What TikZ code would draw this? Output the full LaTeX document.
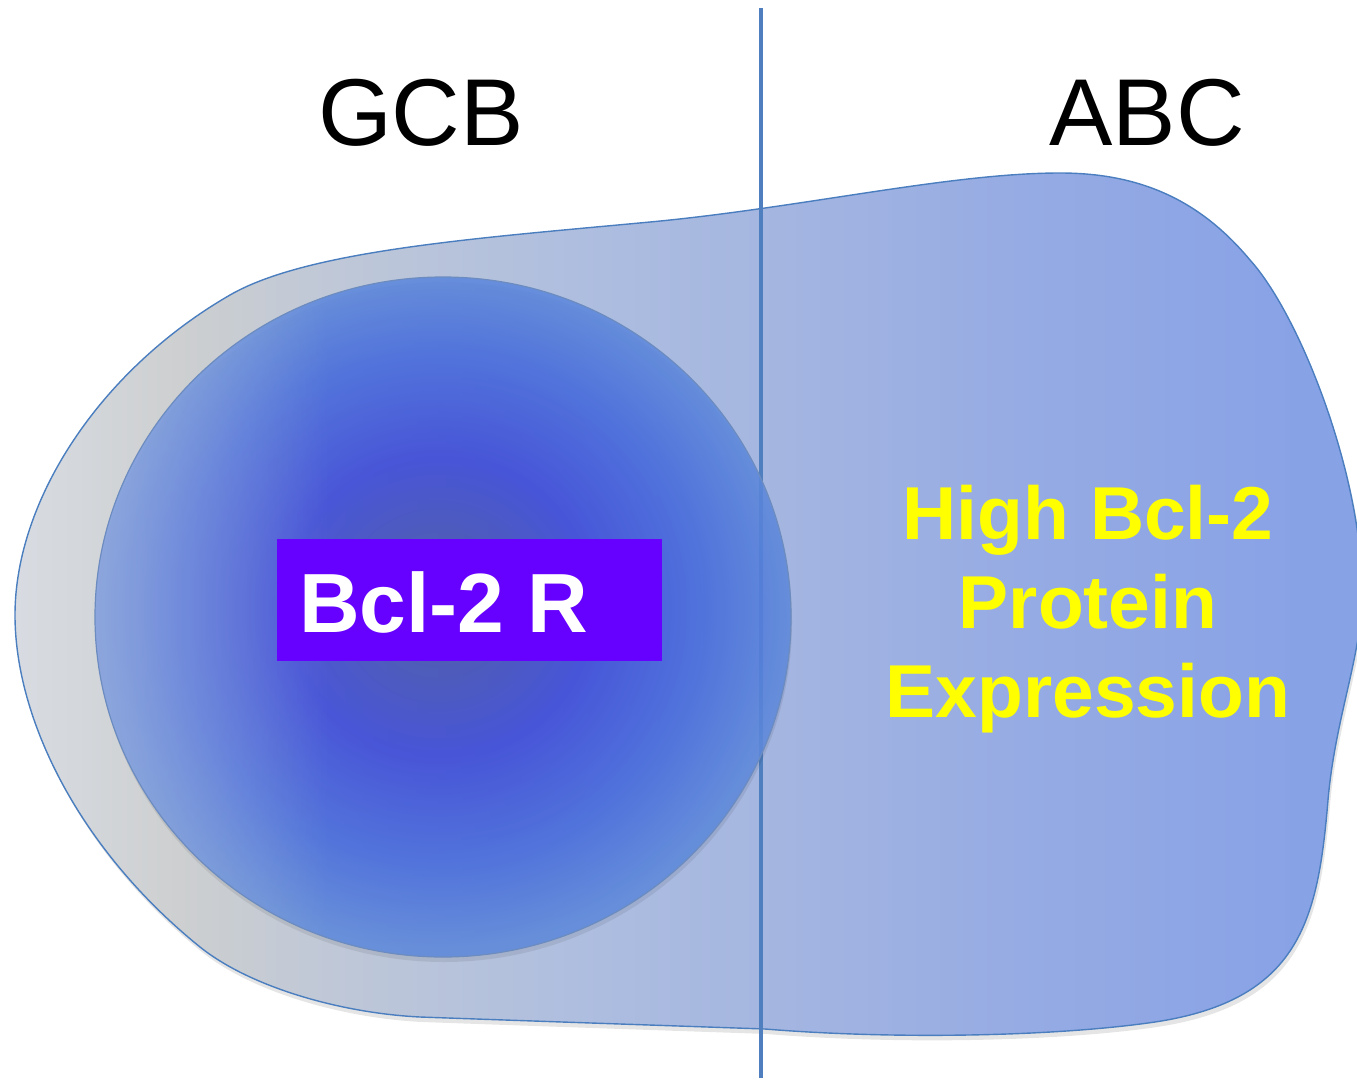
\documentclass[tikz,border=0pt]{standalone}
\usepackage{fontspec}
\setmainfont{Liberation Sans}
\usetikzlibrary{fadings}
\definecolor{bg0}{HTML}{D8DCE2}
\definecolor{bg1}{HTML}{CDCFD0}
\definecolor{bg2}{HTML}{BEC7D8}
\definecolor{bg3}{HTML}{ADBDE0}
\definecolor{bg4}{HTML}{A5B6E0}
\definecolor{bg5}{HTML}{97ACE3}
\definecolor{bg6}{HTML}{88A2E6}
\definecolor{cc0}{HTML}{4250B4}
\definecolor{cc1}{HTML}{3A48DA}
\definecolor{cc2}{HTML}{466CDE}
\definecolor{cc3}{HTML}{5E8ADC}
\definecolor{glow}{HTML}{B0BCE0}
\definecolor{edgeblue}{HTML}{4A7EBF}
\definecolor{lineblue}{HTML}{4F7FBF}
\definecolor{celledge}{HTML}{6C8CC0}
\definecolor{boxviolet}{HTML}{6600FF}
\definecolor{textyellow}{HTML}{FFFF00}
\pgfdeclarehorizontalshading{blobgrad}{100bp}{color(0bp)=(bg0); color(25.5bp)=(bg0); color(31.6bp)=(bg1); color(37.9bp)=(bg2); color(47.1bp)=(bg3); color(53bp)=(bg4); color(61.8bp)=(bg5); color(72.9bp)=(bg6); color(100bp)=(bg6)}
\pgfdeclareradialshading{cellgrad}{\pgfpoint{-0.4bp}{1bp}}{color(0bp)=(cc0); color(4bp)=(cc0); color(11bp)=(cc1); color(19bp)=(cc2); color(25bp)=(cc3); color(50bp)=(cc3)}
\tikzfading[name=glowfadeout, left color=transparent!0, right color=transparent!100]
\tikzset{
  bigtitle/.style={font=\fontsize{95}{110}\selectfont, text=black, inner sep=0pt, anchor=base},
  yellowtext/.style={font=\fontsize{75}{89}\selectfont\bfseries, text=textyellow, align=center, inner sep=0pt, anchor=base},
  boxtext/.style={font=\fontsize{84}{100}\selectfont\bfseries, text=white, inner sep=0pt, anchor=base west},
  divider/.style={draw=lineblue, line width=4pt},
}
\def\blobpath{(15,615)
 .. controls (15,500) and (100,370) .. (230,295)
 .. controls (308,250) and (480,238) .. (650,222)
 .. controls (800,208) and (950,173) .. (1060,173)
 .. controls (1140,173) and (1200,200) .. (1250,260)
 .. controls (1300,315) and (1365,480) .. (1362,600)
 .. controls (1360,660) and (1335,720) .. (1328,800)
 .. controls (1318,920) and (1300,1000) .. (1155,1022)
 .. controls (1060,1036) and (900,1040) .. (765,1029)
 .. controls (650,1025) and (560,1022) .. (420,1017)
 .. controls (340,1013) and (250,987) .. (200,947)
 .. controls (80,850) and (15,720) .. cycle}
\def\cellpath{(443,617) ellipse [x radius=348, y radius=340]}
\begin{document}
\begin{tikzpicture}[x=1pt,y=-1pt]
\useasboundingbox (0,0) rectangle (1357,1081);
% shadow of the cell
\fill[black, opacity=0.10, shift={(2,5)}] \blobpath;
% cell body
\begin{scope}
  \clip \blobpath;
  \shade[shading=blobgrad] (0,0) rectangle (1357,1081);
\end{scope}
\draw[edgeblue, line width=1.4pt] \blobpath;
% divider
\coordinate (dtop) at (761,8);
\coordinate (dbot) at (761,1078);
\draw[divider] (dtop) -- (dbot);
% nucleus
\fill[black, opacity=0.08] (444,622) ellipse [x radius=348, y radius=340];
\shade[shading=cellgrad, fill opacity=0.87] \cellpath;
\begin{scope}
  \clip \cellpath;
  \fill[glow, fill opacity=0.5, path fading=glowfadeout, fit fading=true] (95,270) rectangle (330,965);
\end{scope}
\draw[celledge, line width=1.2pt] \cellpath;
% receptor box
\node[fill=boxviolet, minimum width=385pt, minimum height=122pt, inner sep=0pt, anchor=north west] (box) at (277,539) {};
\node[boxtext] (boxlbl) at (299,632) {Bcl-2 R};
% titles
\node[bigtitle] (gcb) at (421,145) {GCB};
\node[bigtitle] (abc) at (1147,145) {ABC};
% expression label
\node[yellowtext] (expr) at (1088,717) {High Bcl-2\\Protein\\Expression};
\end{tikzpicture}
\end{document}
